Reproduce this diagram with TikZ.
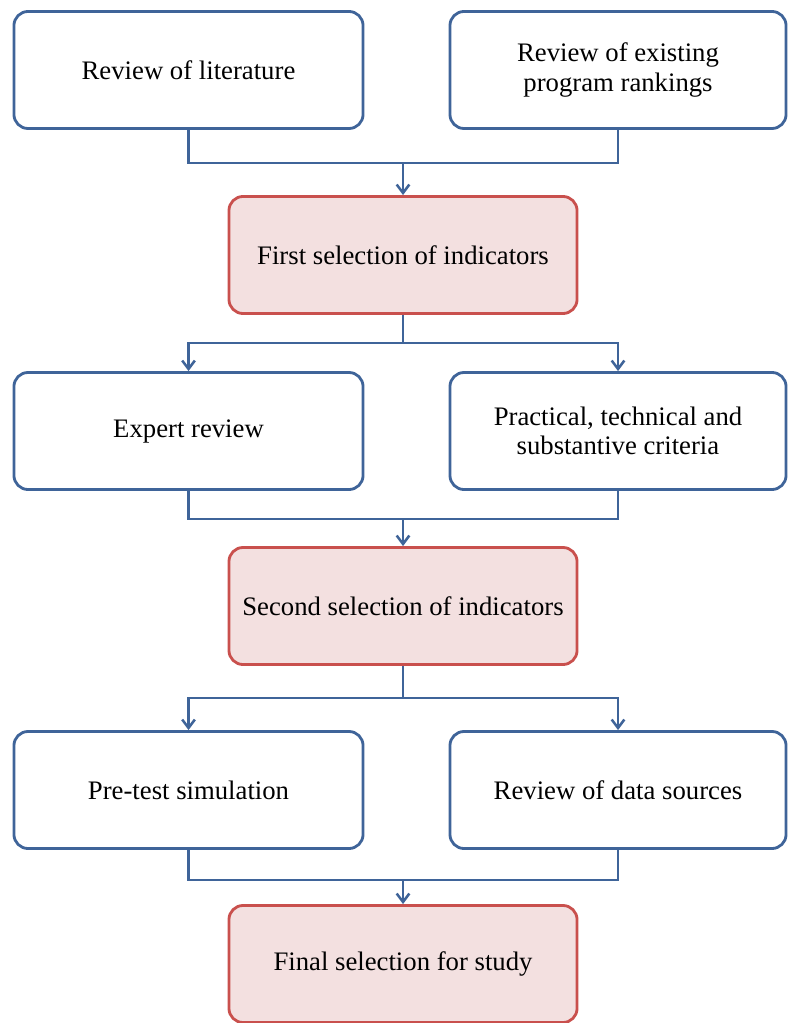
\documentclass[tikz,border=0pt]{standalone}
\usepackage{fontspec}
\setmainfont{Liberation Serif}
\usetikzlibrary{arrows.meta}
\definecolor{boxblue}{HTML}{3F6499}
\definecolor{boxred}{HTML}{C9504D}
\definecolor{boxpink}{HTML}{F3E0E0}
\tikzset{
    stepline/.style={draw=boxblue, line width=1.8pt},
    plainbox/.style={draw=boxblue, line width=2pt, fill=white, rounded corners=10pt,
        minimum height=2.925cm, align=center, font=\fontsize{19}{21}\selectfont},
    selbox/.style={plainbox, draw=boxred, fill=boxpink, minimum width=8.7cm},
}
\begin{document}
\begin{tikzpicture}[x=0.025cm, y=-0.025cm, >={Straight Barb[length=6pt,width=9pt]}]
        \useasboundingbox (0,0) rectangle (787,1023);
        % boxes on the left and right
        \node[plainbox, minimum width=8.725cm] (lit)     at (188.5,70)  {Review of literature};
        \node[plainbox, minimum width=8.4cm]   (rank)    at (618,70)    {Review of existing\\program rankings};
        \node[plainbox, minimum width=8.725cm] (expert)  at (188.5,431) {Expert review};
        \node[plainbox, minimum width=8.4cm]   (crit)    at (618,431)   {Practical, technical and\\substantive criteria};
        \node[plainbox, minimum width=8.725cm] (pretest) at (188.5,790) {Pre-test simulation};
        \node[plainbox, minimum width=8.4cm]   (sources) at (618,790)   {Review of data sources};
        % selection boxes in the middle
        \node[selbox] (first)  at (403,255) {First selection of indicators};
        \node[selbox] (second) at (403,606) {Second selection of indicators};
        \node[selbox] (final)  at (403,964) {Final selection for study};
        % join points and split points
        \coordinate (join1) at (403,163);
        \coordinate (join2) at (403,519);
        \coordinate (join3) at (403,880);
        \coordinate (split1) at (403,343);
        \coordinate (split2) at (403,698);
        % two boxes join into one
        \foreach \l/\r/\j/\s in {lit/rank/join1/first, expert/crit/join2/second, pretest/sources/join3/final} {
            \draw[stepline] (\l.south) |- (\j) -| (\r.south);
            \draw[stepline,->] (\j) -- (\s.north);
        }
        % one box splits into two
        \foreach \s/\p/\l/\r in {first/split1/expert/crit, second/split2/pretest/sources} {
            \draw[stepline] (\s.south) -- (\p);
            \draw[stepline,->] (\p) -| (\l.north);
            \draw[stepline,->] (\p) -| (\r.north);
        }
\end{tikzpicture}
\end{document}
